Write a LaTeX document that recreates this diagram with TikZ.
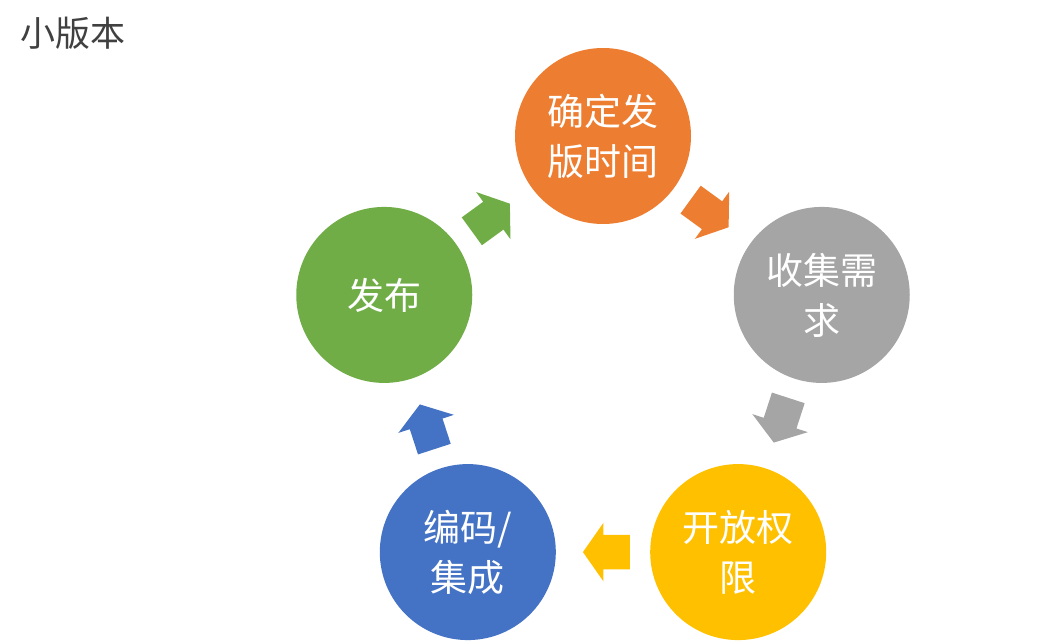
\documentclass[tikz,border=0pt]{standalone}
\usepackage{fontspec}
\newfontfamily\cjk{Noto Sans CJK SC}
\usetikzlibrary{calc,shapes.arrows}
\definecolor{steporange}{HTML}{ED7D31}
\definecolor{stepgray}{HTML}{A5A5A5}
\definecolor{stepyellow}{HTML}{FFC000}
\definecolor{stepblue}{HTML}{4472C4}
\definecolor{stepgreen}{HTML}{70AD47}
\definecolor{ink}{HTML}{404040}
\tikzset{
  stage/.style={
    circle,
    draw=none,
    minimum size=176pt,
    inner sep=0pt,
    align=center,
    text=white,
    font=\cjk\fontsize{37}{50}\selectfont
  },
  blockarrow/.style={
    single arrow,
    draw=none,
    minimum height=47pt,
    inner xsep=0pt,
    inner ysep=17pt,
    single arrow head extend=12pt,
    single arrow tip angle=110
  }
}
\begin{document}
\begin{tikzpicture}[x=1pt, y=1pt]
  \useasboundingbox (0,0) rectangle (1060,-642);
  \node[font=\cjk\fontsize{35}{40}\selectfont, text=ink, anchor=west] (title)
    at (17,-33) {小版本};

  \coordinate (hub) at (603,-366);
  \node[stage, fill=steporange] (date) at ($(hub)+(90:230)$) {确定发\\版时间};
  \node[stage, fill=stepgray] (collect) at ($(hub)+(18:230)$) {收集需\\求};
  \node[stage, fill=stepyellow] (access) at ($(hub)+(-54:230)$) {开放权\\限};
  \node[stage, fill=stepblue] (build) at ($(hub)+(-126:230)$) {编码/\\集成};
  \node[stage, fill=stepgreen] (release) at ($(hub)+(162:230)$) {发布};

  % block arrows between neighbouring stages, clockwise
  \node[blockarrow, fill=steporange, rotate=-36] (a1) at ($(date)!0.465!(collect)$) {};
  \node[blockarrow, fill=stepgray, rotate=-108] (a2) at ($(collect)!0.465!(access)$) {};
  \node[blockarrow, fill=stepyellow, rotate=180] (a3) at ($(access)!0.465!(build)$) {};
  \node[blockarrow, fill=stepblue, rotate=108] (a4) at ($(build)!0.465!(release)$) {};
  \node[blockarrow, fill=stepgreen, rotate=36] (a5) at ($(release)!0.465!(date)$) {};
\end{tikzpicture}
\end{document}
